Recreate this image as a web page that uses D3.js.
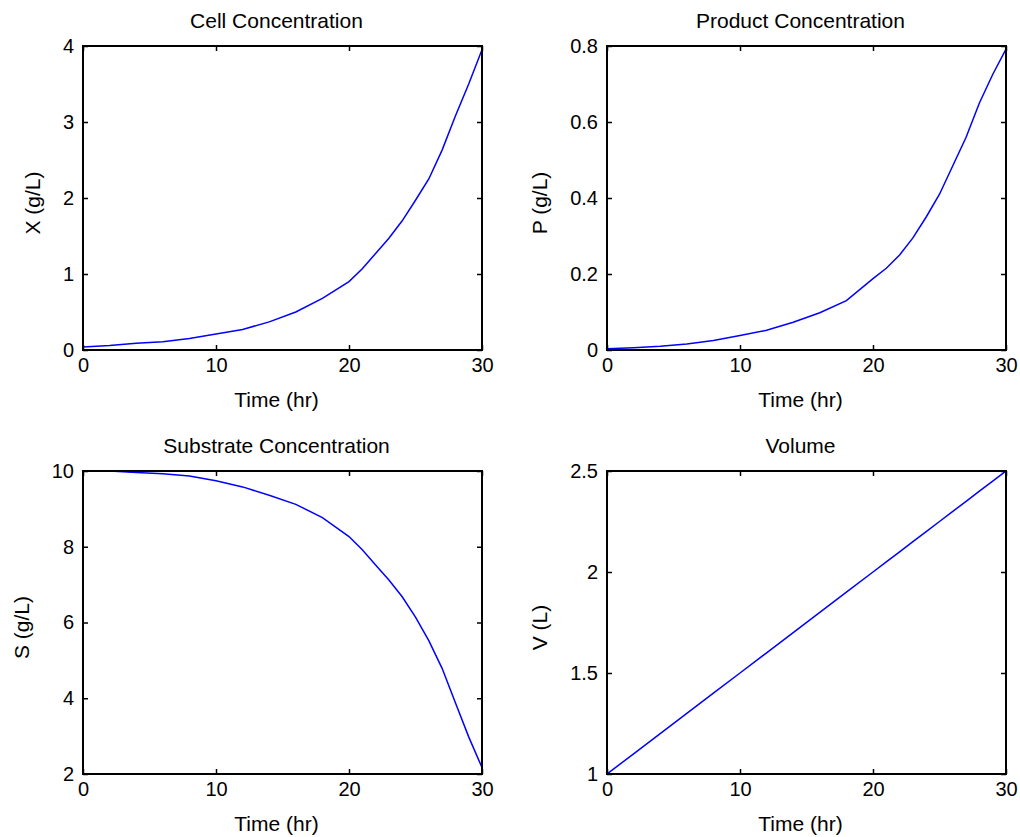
<!DOCTYPE html>
<html>
<head>
<meta charset="utf-8">
<script src="https://cdn.jsdelivr.net/npm/d3@7"></script>
<style>
  body { margin: 0; background: #fff; }
  svg text { font-family: "Liberation Sans", Arial, sans-serif; fill: #000; }
</style>
</head>
<body>
<div id="chart"></div>
<script>
// time points (hr)
const time = [0, 2, 4, 6, 8, 10, 12, 14, 16, 18, 20, 21, 22, 23, 24, 25, 26, 27, 28, 29, 30];

// cell concentration X (g/L)
const cellX = [0.04, 0.06, 0.09, 0.11, 0.15, 0.21, 0.27, 0.37, 0.50, 0.68, 0.90, 1.07, 1.27, 1.47, 1.70, 1.97, 2.25, 2.63, 3.08, 3.50, 3.95];
// product concentration P (g/L)
const productP = [0.003, 0.006, 0.010, 0.016, 0.025, 0.038, 0.052, 0.073, 0.098, 0.130, 0.188, 0.215, 0.250, 0.295, 0.350, 0.410, 0.485, 0.560, 0.650, 0.725, 0.792];
// substrate concentration S (g/L)
const substrateS = [10.0, 10.0, 9.96, 9.93, 9.87, 9.74, 9.58, 9.36, 9.12, 8.77, 8.27, 7.92, 7.52, 7.12, 6.68, 6.14, 5.52, 4.79, 3.88, 2.98, 2.17];
// volume V (L)
const volumeV = [1.0, 1.1, 1.2, 1.3, 1.4, 1.5, 1.6, 1.7, 1.8, 1.9, 2.0, 2.05, 2.1, 2.15, 2.2, 2.25, 2.3, 2.35, 2.4, 2.45, 2.5];

// axis ticks
const timeTicks = [0, 10, 20, 30];
const xTicksY = [0, 1, 2, 3, 4];
const pTicksY = [0, 0.2, 0.4, 0.6, 0.8];
const sTicksY = [2, 4, 6, 8, 10];
const vTicksY = [1, 1.5, 2, 2.5];

const titles = ["Cell Concentration", "Product Concentration", "Substrate Concentration", "Volume"];
const yLabels = ["X (g/L)", "P (g/L)", "S (g/L)", "V (L)"];
const xLabel = "Time (hr)";

const W = 1020, H = 837;

const svg = d3.select("#chart").append("svg")
    .attr("width", W)
    .attr("height", H)
    .style("background", "#fff");

// one panel per subplot
const panels = [
  {left: 83,  top: 46,  width: 399, height: 304, values: cellX,      yDomain: [0, 4],   yTicks: xTicksY, title: titles[0], ylab: yLabels[0]},
  {left: 607, top: 46,  width: 399, height: 304, values: productP,   yDomain: [0, 0.8], yTicks: pTicksY, title: titles[1], ylab: yLabels[1]},
  {left: 83,  top: 471, width: 399, height: 303, values: substrateS, yDomain: [2, 10],  yTicks: sTicksY, title: titles[2], ylab: yLabels[2]},
  {left: 607, top: 471, width: 399, height: 303, values: volumeV,    yDomain: [1, 2.5], yTicks: vTicksY, title: titles[3], ylab: yLabels[3]}
];

const tickFont = 20;
const labelFont = 21;
const tickLen = 5;

panels.forEach(function(p, i) {
  const g = svg.append("g")
      .attr("transform", "translate(" + p.left + "," + p.top + ")");

  const x = d3.scaleLinear().domain([0, 30]).range([0, p.width]);
  const y = d3.scaleLinear().domain(p.yDomain).range([p.height, 0]);

  // clip so the curve stays inside the box
  g.append("clipPath").attr("id", "clip" + i)
    .append("rect").attr("width", p.width).attr("height", p.height);

  const line = d3.line()
      .x(function(d, j) { return x(time[j]); })
      .y(function(d) { return y(d); });

  g.append("path")
      .attr("d", line(p.values))
      .attr("clip-path", "url(#clip" + i + ")")
      .style("fill", "none")
      .style("stroke", "#0000ff")
      .style("stroke-width", 1.5);

  // bottom axis with labels
  const bottom = g.append("g")
      .attr("transform", "translate(0," + p.height + ")")
      .call(d3.axisBottom(x).tickValues(timeTicks).tickSizeInner(-tickLen).tickSizeOuter(0).tickPadding(8).tickFormat(d3.format("d")));

  // left axis with labels
  const left = g.append("g")
      .call(d3.axisLeft(y).tickValues(p.yTicks).tickSizeInner(-tickLen).tickSizeOuter(0).tickPadding(9).tickFormat(function(d) { return String(+d.toFixed(2)); }));

  // mirrored ticks on top / right
  const top = g.append("g")
      .call(d3.axisTop(x).tickValues(timeTicks).tickSizeInner(-tickLen).tickSizeOuter(0).tickFormat(""));
  const right = g.append("g")
      .attr("transform", "translate(" + p.width + ",0)")
      .call(d3.axisRight(y).tickValues(p.yTicks).tickSizeInner(-tickLen).tickSizeOuter(0).tickFormat(""));

  [bottom, left, top, right].forEach(function(a) {
    a.select(".domain").remove();
    a.selectAll("line").attr("stroke", "#000").attr("stroke-width", 1.5);
    a.selectAll("text").style("font-size", tickFont + "px").style("font-family", null).attr("fill", "#000");
  });

  // axes box
  g.append("rect")
      .attr("width", p.width)
      .attr("height", p.height)
      .style("fill", "none")
      .style("stroke", "#000")
      .style("stroke-width", 2);

  const cx = p.width / 2 - 6;

  g.append("text")
      .attr("x", cx)
      .attr("y", -18)
      .attr("text-anchor", "middle")
      .style("font-size", labelFont + "px")
      .text(p.title);

  g.append("text")
      .attr("x", cx)
      .attr("y", p.height + 57)
      .attr("text-anchor", "middle")
      .style("font-size", labelFont + "px")
      .text(xLabel);

  // y label sits left of the widest tick label
  let minX = 0;
  left.selectAll("text").each(function() {
    minX = Math.min(minX, this.getBBox().x);
  });
  const labX = minX - 23;

  g.append("text")
      .attr("transform", "translate(" + labX + "," + (p.height / 2 + 5) + ") rotate(-90)")
      .attr("text-anchor", "middle")
      .style("font-size", labelFont + "px")
      .text(p.ylab);
});
</script>
</body>
</html>
